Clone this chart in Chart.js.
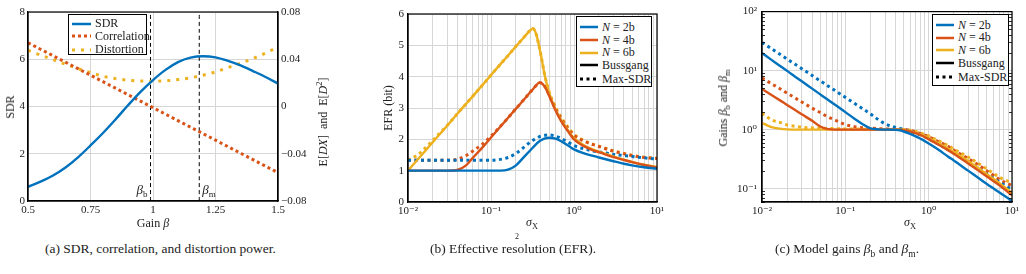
<!DOCTYPE html>
<html>
<head>
<meta charset="utf-8">
<script src="https://cdn.jsdelivr.net/npm/chart.js@4.4.1/dist/chart.umd.min.js"></script>
<style>
body { margin: 0; background: #fff; width: 1026px; height: 274px; overflow: hidden; position: relative; font-family: "Liberation Serif", "DejaVu Serif", serif; color: #222; }
canvas { position: absolute; top: 0; }
.t { position: absolute; white-space: nowrap; font-size: 12px; line-height: 1; }
.rot { transform: translate(-50%, -50%) rotate(-90deg); }
.hc { transform: translate(-50%, -50%); }
.cap { position: absolute; white-space: nowrap; font-size: 13.5px; top: 241px; }
.leg { position: absolute; border: 1px solid #000; background: #fff; box-sizing: border-box; }
.row { position: absolute; height: 14px; display: flex; align-items: center; font-size: 12px; white-space: nowrap; }
.row svg { margin-right: 4px; }
sub, sup { font-size: 70%; line-height: 0; }
</style>
</head>
<body>
<canvas id="chartA" width="340" height="232" style="left:0"></canvas>
<canvas id="chartB" width="340" height="232" style="left:340px"></canvas>
<canvas id="chartC" width="346" height="232" style="left:680px"></canvas>

<!-- axis titles -->
<div class="t rot" style="left:10px;top:107px">SDR</div>
<div class="t rot" style="left:323px;top:122px">E[<i>DX</i>]&ensp;and&ensp;E[<i>D</i><sup>2</sup>]</div>
<div class="t hc" style="left:153px;top:223px">Gain <i>β</i></div>
<div class="t rot" style="left:388px;top:108px">EFR (bit)</div>
<div class="t hc" style="left:532px;top:222px"><i>σ</i><sub>X</sub></div>
<div class="t rot" style="left:723px;top:108px">Gains <i>β</i><sub>b</sub> and <i>β</i><sub>m</sub></div>
<div class="t hc" style="left:910px;top:222px"><i>σ</i><sub>X</sub></div>

<!-- legends -->
<div class="leg" style="left:68px;top:14px;width:79px;height:41px">
  <div class="row" style="left:3px;top:1.7px"><svg width="19" height="6"><line x1="0" y1="3" x2="19" y2="3" stroke="#0072BD" stroke-width="2.5"/></svg>SDR</div>
  <div class="row" style="left:3px;top:14.3px"><svg width="19" height="6"><line x1="0" y1="3" x2="19" y2="3" stroke="#D95319" stroke-width="3" stroke-dasharray="3 3"/></svg>Correlation</div>
  <div class="row" style="left:3px;top:27.7px"><svg width="19" height="6"><line x1="0" y1="3" x2="19" y2="3" stroke="#EDB120" stroke-width="3" stroke-dasharray="3 6"/></svg>Distortion</div>
</div>
<div class="leg" style="left:576px;top:16px;width:76px;height:71px">
  <div class="row" style="left:3px;top:3px"><svg width="18" height="6"><line x1="0" y1="3" x2="18" y2="3" stroke="#0072BD" stroke-width="2.5"/></svg><i>N</i>&nbsp;= 2b</div>
  <div class="row" style="left:3px;top:16px"><svg width="18" height="6"><line x1="0" y1="3" x2="18" y2="3" stroke="#D95319" stroke-width="2.5"/></svg><i>N</i>&nbsp;= 4b</div>
  <div class="row" style="left:3px;top:28.7px"><svg width="18" height="6"><line x1="0" y1="3" x2="18" y2="3" stroke="#EDB120" stroke-width="2.5"/></svg><i>N</i>&nbsp;= 6b</div>
  <div class="row" style="left:3px;top:41px"><svg width="18" height="6"><line x1="0" y1="3" x2="18" y2="3" stroke="#000" stroke-width="2.5"/></svg>Bussgang</div>
  <div class="row" style="left:3px;top:55px"><svg width="18" height="6"><line x1="0" y1="3" x2="18" y2="3" stroke="#000" stroke-width="3" stroke-dasharray="3 3.5"/></svg>Max-SDR</div>
</div>
<div class="leg" style="left:932px;top:14px;width:77px;height:72px">
  <div class="row" style="left:3px;top:3px"><svg width="18" height="6"><line x1="0" y1="3" x2="18" y2="3" stroke="#0072BD" stroke-width="2.5"/></svg><i>N</i>&nbsp;= 2b</div>
  <div class="row" style="left:3px;top:15.7px"><svg width="18" height="6"><line x1="0" y1="3" x2="18" y2="3" stroke="#D95319" stroke-width="2.5"/></svg><i>N</i>&nbsp;= 4b</div>
  <div class="row" style="left:3px;top:28.3px"><svg width="18" height="6"><line x1="0" y1="3" x2="18" y2="3" stroke="#EDB120" stroke-width="2.5"/></svg><i>N</i>&nbsp;= 6b</div>
  <div class="row" style="left:3px;top:41.3px"><svg width="18" height="6"><line x1="0" y1="3" x2="18" y2="3" stroke="#000" stroke-width="2.5"/></svg>Bussgang</div>
  <div class="row" style="left:3px;top:55px"><svg width="18" height="6"><line x1="0" y1="3" x2="18" y2="3" stroke="#000" stroke-width="3" stroke-dasharray="3 3.5"/></svg>Max-SDR</div>
</div>

<!-- captions -->
<div class="cap" style="left:45px">(a) SDR, correlation, and distortion power.</div>
<div class="cap" style="left:430px">(b) Effective resolution (EFR).</div>
<div class="cap" style="left:775px">(c) Model gains <i>β</i><sub>b</sub> and <i>β</i><sub>m</sub>.</div>
<div class="t" style="left:515px;top:233px;font-size:8px">2</div>

<script>
// (a) SDR / correlation / distortion vs. gain
const gainBeta = [0.5, 0.55, 0.6, 0.65, 0.7, 0.75, 0.8, 0.85, 0.9, 0.95, 1.0, 1.05, 1.1, 1.15, 1.2, 1.25, 1.3, 1.35, 1.4, 1.45, 1.5];
const sdrVals = [0.60, 0.82, 1.08, 1.42, 1.85, 2.35, 2.88, 3.45, 4.05, 4.62, 5.12, 5.55, 5.88, 6.07, 6.13, 6.08, 5.93, 5.74, 5.5, 5.25, 4.97];
const corrVals = [0.054, 0.0485, 0.043, 0.0375, 0.032, 0.0265, 0.021, 0.0155, 0.010, 0.0045, -0.001, -0.0065, -0.012, -0.0175, -0.023, -0.0285, -0.034, -0.0395, -0.045, -0.0505, -0.056];
const distVals = [0.0476, 0.0435, 0.0397, 0.0358, 0.0321, 0.0287, 0.0256, 0.0236, 0.0223, 0.0216, 0.0214, 0.0218, 0.0228, 0.0243, 0.0265, 0.0293, 0.033, 0.0366, 0.0406, 0.0452, 0.0504];
const betaB = 0.99, betaM = 1.185;
const gainTicks = [0.5, 0.75, 1, 1.25, 1.5];
const sdrTicks = [0, 2, 4, 6, 8];
const momentTicks = [-0.08, -0.04, 0, 0.04, 0.08];

// (b) effective resolution vs. sigma_X
const sigmaB = [0.01, 0.013, 0.017, 0.02, 0.025, 0.03, 0.04, 0.05, 0.06, 0.08, 0.1, 0.13, 0.16, 0.2, 0.25, 0.3, 0.32, 0.35, 0.38, 0.4, 0.45, 0.5, 0.6, 0.7, 0.85, 1, 1.3, 1.7, 2, 3, 4, 5, 7, 10];
const efr2Bussgang = [1, 1, 1, 1, 1, 1, 1, 1, 1, 1, 1, 1, 1.03, 1.17, 1.44, 1.66, 1.74, 1.85, 1.93, 1.97, 2.03, 2.05, 2.02, 1.94, 1.8, 1.68, 1.56, 1.47, 1.42, 1.3, 1.22, 1.17, 1.11, 1.06];
const efr4Bussgang = [1, 1, 1, 1, 1, 1, 1.03, 1.17, 1.40, 1.76, 2.06, 2.41, 2.68, 2.98, 3.27, 3.52, 3.6, 3.72, 3.81, 3.8, 3.66, 3.4, 2.92, 2.58, 2.25, 2.0, 1.79, 1.65, 1.59, 1.43, 1.34, 1.27, 1.18, 1.1];
const efr6Bussgang = [1.0, 1.35, 1.70, 1.92, 2.21, 2.45, 2.84, 3.13, 3.37, 3.75, 4.05, 4.40, 4.67, 4.97, 5.26, 5.49, 5.54, 5.36, 4.97, 4.68, 3.97, 3.5, 2.95, 2.62, 2.28, 2.04, 1.82, 1.67, 1.61, 1.45, 1.35, 1.28, 1.19, 1.12];
const efr2MaxSdr = [1.33, 1.33, 1.33, 1.33, 1.33, 1.33, 1.33, 1.33, 1.33, 1.33, 1.33, 1.36, 1.42, 1.55, 1.75, 1.92, 1.97, 2.03, 2.08, 2.1, 2.13, 2.14, 2.1, 2.03, 1.91, 1.8, 1.7, 1.63, 1.6, 1.52, 1.48, 1.45, 1.41, 1.37];
const efr4MaxSdr = [1.33, 1.33, 1.33, 1.33, 1.33, 1.33, 1.37, 1.48, 1.62, 1.86, 2.1, 2.42, 2.68, 2.98, 3.27, 3.52, 3.6, 3.72, 3.81, 3.8, 3.67, 3.43, 2.98, 2.66, 2.34, 2.13, 1.95, 1.83, 1.77, 1.62, 1.54, 1.48, 1.42, 1.39];
const efr6MaxSdr = [1.33, 1.5, 1.78, 1.97, 2.24, 2.46, 2.84, 3.13, 3.37, 3.75, 4.05, 4.40, 4.67, 4.97, 5.26, 5.49, 5.54, 5.36, 4.97, 4.68, 3.98, 3.53, 3.02, 2.7, 2.38, 2.16, 1.97, 1.84, 1.78, 1.63, 1.55, 1.49, 1.43, 1.39];
const efrTicks = [0, 1, 2, 3, 4, 5, 6];

// (c) model gains vs. sigma_X
const sigmaC = [0.01, 0.013, 0.017, 0.02, 0.025, 0.03, 0.04, 0.05, 0.06, 0.08, 0.1, 0.13, 0.16, 0.2, 0.25, 0.3, 0.35, 0.4, 0.45, 0.5, 0.6, 0.7, 0.85, 1, 1.3, 1.7, 2, 3, 4, 5, 7, 10];
const gain2Bussgang = [19.8, 15.2, 11.6, 9.9, 7.9, 6.6, 4.95, 3.96, 3.3, 2.48, 1.98, 1.52, 1.25, 1.05, 1.01, 1.0, 1.0, 0.99, 0.97, 0.93, 0.85, 0.77, 0.67, 0.58, 0.46, 0.35, 0.3, 0.2, 0.15, 0.12, 0.087, 0.062];
const gain4Bussgang = [4.9, 3.87, 3.04, 2.62, 2.15, 1.82, 1.41, 1.13, 1.03, 1.0, 1, 1, 1, 1, 1, 1, 1, 1, 0.99, 0.98, 0.93, 0.87, 0.78, 0.69, 0.56, 0.45, 0.39, 0.265, 0.2, 0.16, 0.115, 0.077];
const gain6Bussgang = [1.3, 1.1, 1.03, 1.01, 1, 1, 1, 1, 1, 1, 1, 1, 1, 1, 1, 1, 1, 1, 1, 0.99, 0.95, 0.89, 0.8, 0.72, 0.59, 0.48, 0.42, 0.29, 0.22, 0.175, 0.125, 0.085];
const gain2MaxSdr = [30, 23.5, 18.3, 15.7, 12.8, 10.8, 8.26, 6.7, 5.66, 4.33, 3.52, 2.76, 2.28, 1.85, 1.47, 1.25, 1.15, 1.09, 1.05, 1.01, 0.94, 0.87, 0.78, 0.70, 0.57, 0.46, 0.40, 0.28, 0.215, 0.175, 0.13, 0.097];
const gain4MaxSdr = [7.5, 6.0, 4.8, 4.16, 3.44, 2.94, 2.31, 1.95, 1.68, 1.4, 1.22, 1.12, 1.08, 1.06, 1.04, 1.03, 1.02, 1.01, 1.01, 1.01, 0.97, 0.91, 0.83, 0.76, 0.63, 0.52, 0.45, 0.32, 0.25, 0.2, 0.145, 0.112];
const gain6MaxSdr = [1.9, 1.47, 1.3, 1.2, 1.14, 1.1, 1.07, 1.06, 1.05, 1.04, 1.03, 1.03, 1.02, 1.02, 1.01, 1.01, 1.01, 1.01, 1.01, 1.01, 0.98, 0.93, 0.85, 0.78, 0.65, 0.54, 0.47, 0.34, 0.265, 0.215, 0.157, 0.125];
const gainDecades = [0.1, 1, 10, 100];

// log tick tables
const sigmaDecades = [0.01, 0.1, 1];
const logMults = [1, 2, 3, 4, 5, 6, 7, 8, 9];
const sigmaTicks = sigmaDecades.flatMap(d => logMults.map(m => +(d * m).toPrecision(3))).concat([10]);
const gainMinorTicks = [0.01, 0.1, 1, 10].flatMap(d => logMults.slice(1).map(m => +(d * m).toPrecision(3)));

const BLUE = '#0072BD', RED = '#D95319', YELLOW = '#EDB120';
const GRID = '#d6d6d6';
const SERIF = '"Liberation Serif", "DejaVu Serif", serif';
const tickFont = { family: SERIF, size: 11 };

const supMap = { '-': '⁻', '0': '⁰', '1': '¹', '2': '²', '3': '³' };
function pow10Label(v) {
    const l = Math.log10(v), e = Math.round(l);
    if (Math.abs(l - e) > 1e-6) return '';
    return '10' + String(e).split('').map(c => supMap[c]).join('');
}
function fixTicks(list) {
    return s => { s.ticks = list.map(v => ({ value: v })); };
}
function line(xs, ys, color, dash, yAxisID) {
    return {
        data: xs.map((x, i) => ({ x: x, y: ys[i] })),
        borderColor: color,
        borderWidth: dash ? 3 : 2.4,
        borderDash: dash || [],
        pointRadius: 0,
        cubicInterpolationMode: 'monotone',
        fill: false,
        yAxisID: yAxisID || 'y'
    };
}

const framePlugin = {
    id: 'frame',
    afterDatasetsDraw(chart, args, opts) {
        const a = chart.chartArea, ctx = chart.ctx;
        ctx.save();
        ctx.strokeStyle = '#000';
        if (opts.minorY) {
            const ys = chart.scales.y;
            ctx.lineWidth = 0.8;
            opts.minorY.forEach(v => {
                if (v < ys.min || v > ys.max) return;
                const p = Math.round(ys.getPixelForValue(v)) + 0.5;
                ctx.beginPath();
                ctx.moveTo(a.left, p); ctx.lineTo(a.left + 3, p);
                ctx.moveTo(a.right, p); ctx.lineTo(a.right - 3, p);
                ctx.stroke();
            });
        }
        ctx.lineWidth = 1.2;
        ctx.strokeRect(a.left, a.top, a.right - a.left, a.bottom - a.top);
        ctx.restore();
    }
};

const betaLabelPlugin = {
    id: 'betaLabels',
    afterDatasetsDraw(chart) {
        const ctx = chart.ctx, xs = chart.scales.x, ys = chart.scales.y;
        const yb = ys.getPixelForValue(0.3);
        ctx.save();
        ctx.fillStyle = '#222';
        [['b', betaB, -1], ['m', betaM, 1]].forEach(([sub, val, side]) => {
            const px = xs.getPixelForValue(val);
            ctx.font = 'italic 13px ' + SERIF;
            const wb = ctx.measureText('β').width;
            ctx.font = '9px ' + SERIF;
            const ws = ctx.measureText(sub).width;
            const x0 = side < 0 ? px - 3 - wb - ws : px + 3;
            ctx.font = 'italic 13px ' + SERIF;
            ctx.fillText('β', x0, yb);
            ctx.font = '9px ' + SERIF;
            ctx.fillText(sub, x0 + wb, yb + 3);
        });
        ctx.restore();
    }
};

function baseOptions(pad) {
    return {
        responsive: false,
        animation: false,
        layout: { padding: { top: pad.top, right: pad.right, left: 0, bottom: 0 } },
        plugins: { legend: { display: false }, tooltip: { enabled: false } },
        events: []
    };
}

// ---- chart (a)
new Chart(document.getElementById('chartA'), {
    type: 'line',
    data: {
        datasets: [
            line(gainBeta, sdrVals, BLUE),
            line(gainBeta, corrVals, RED, [3, 3], 'y2'),
            line(gainBeta, distVals, YELLOW, [3, 6], 'y2'),
            Object.assign(line([betaB, betaB], [0, 8], '#000', [4, 3]), { borderWidth: 1 }),
            Object.assign(line([betaM, betaM], [0, 8], '#000', [4, 3]), { borderWidth: 1 })
        ]
    },
    options: Object.assign(baseOptions({ top: 12, right: 0 }), {
        scales: {
            x: {
                type: 'linear', min: 0.5, max: 1.5,
                afterBuildTicks: fixTicks(gainTicks),
                afterFit: s => { s.height = 31; },
                grid: { color: GRID, drawTicks: false },
                border: { color: '#000', width: 1.2 },
                ticks: { font: tickFont, color: '#222', padding: 3, maxRotation: 0, autoSkip: false, callback: v => String(v) }
            },
            y: {
                min: 0, max: 8,
                afterBuildTicks: fixTicks(sdrTicks),
                afterFit: s => { s.width = 28; },
                grid: { color: GRID, drawTicks: false },
                border: { color: '#000', width: 1.2 },
                ticks: { font: tickFont, color: '#222', padding: 3 }
            },
            y2: {
                position: 'right', min: -0.08, max: 0.08,
                afterBuildTicks: fixTicks(momentTicks),
                afterFit: s => { s.width = 62; },
                grid: { drawOnChartArea: false, drawTicks: false },
                border: { color: '#000', width: 1.2 },
                ticks: {
                    font: tickFont, color: '#222', padding: 3,
                    callback: v => Math.abs(v) < 1e-9 ? '0' : (v < 0 ? '−' : '') + Math.abs(v).toFixed(2)
                }
            }
        }
    }),
    plugins: [framePlugin, betaLabelPlugin]
});

// ---- chart (b)
new Chart(document.getElementById('chartB'), {
    type: 'line',
    data: {
        datasets: [
            line(sigmaB, efr2Bussgang, BLUE),
            line(sigmaB, efr4Bussgang, RED),
            line(sigmaB, efr6Bussgang, YELLOW),
            line(sigmaB, efr2MaxSdr, BLUE, [3, 3.5]),
            line(sigmaB, efr4MaxSdr, RED, [3, 3.5]),
            line(sigmaB, efr6MaxSdr, YELLOW, [3, 3.5])
        ]
    },
    options: Object.assign(baseOptions({ top: 14, right: 23 }), {
        scales: {
            x: {
                type: 'logarithmic', min: 0.01, max: 10,
                afterBuildTicks: fixTicks(sigmaTicks),
                afterFit: s => { s.height = 30; },
                grid: { color: GRID, drawTicks: false },
                border: { color: '#000', width: 1.2 },
                ticks: { font: tickFont, color: '#222', padding: 3, maxRotation: 0, autoSkip: false, callback: pow10Label }
            },
            y: {
                min: 0, max: 6,
                afterBuildTicks: fixTicks(efrTicks),
                afterFit: s => { s.width = 68; },
                grid: { color: GRID, drawTicks: false },
                border: { color: '#000', width: 1.2 },
                ticks: { font: tickFont, color: '#222', padding: 4 }
            }
        }
    }),
    plugins: [framePlugin]
});

// ---- chart (c)
new Chart(document.getElementById('chartC'), {
    type: 'line',
    data: {
        datasets: [
            line(sigmaC, gain2Bussgang, BLUE),
            line(sigmaC, gain4Bussgang, RED),
            line(sigmaC, gain6Bussgang, YELLOW),
            line(sigmaC, gain2MaxSdr, BLUE, [3, 3.5]),
            line(sigmaC, gain4MaxSdr, RED, [3, 3.5]),
            line(sigmaC, gain6MaxSdr, YELLOW, [3, 3.5])
        ]
    },
    options: Object.assign(baseOptions({ top: 11, right: 14 }), {
        scales: {
            x: {
                type: 'logarithmic', min: 0.01, max: 10,
                afterBuildTicks: fixTicks(sigmaTicks),
                afterFit: s => { s.height = 30; },
                grid: { color: GRID, drawTicks: false },
                border: { color: '#000', width: 1.2 },
                ticks: { font: tickFont, color: '#222', padding: 3, maxRotation: 0, autoSkip: false, callback: pow10Label }
            },
            y: {
                type: 'logarithmic', min: 0.0594, max: 100,
                afterBuildTicks: fixTicks(gainDecades),
                afterFit: s => { s.width = 82; },
                grid: { color: GRID, drawTicks: false },
                border: { color: '#000', width: 1.2 },
                ticks: { font: tickFont, color: '#222', padding: 5, autoSkip: false, callback: pow10Label }
            }
        },
        plugins: { legend: { display: false }, tooltip: { enabled: false }, frame: { minorY: gainMinorTicks } }
    }),
    plugins: [framePlugin]
});
</script>
</body>
</html>
